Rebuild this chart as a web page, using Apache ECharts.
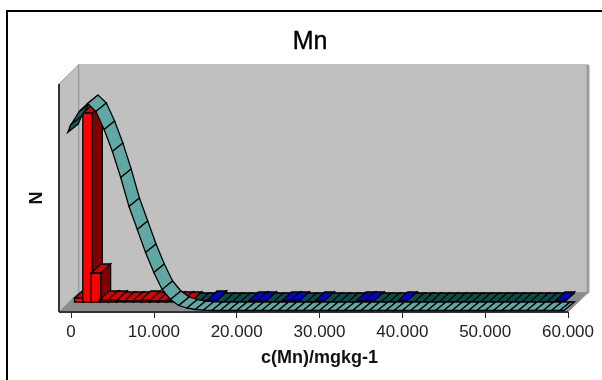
<!DOCTYPE html>
<html>
<head>
<meta charset="UTF-8">
<title>Mn</title>
<script src="https://cdn.jsdelivr.net/npm/echarts@6/dist/echarts.min.js"></script>
<style>
html,body{margin:0;padding:0;background:#fff}
#frame{position:absolute;left:6px;top:10px;width:596px;height:370px;border-left:2px solid #000;border-top:2px solid #000;box-sizing:border-box}
</style>
</head>
<body>
<div id="frame"></div>
<div id="main" style="position:absolute;left:0;top:0;width:602px;height:380px;"></div>
<script type="text/javascript">
// histogram counts, bins 1..59
var binCounts = [4,189,29,2,2,1,1,1,2,1,1,1,1,1,0,0,2,0,0,0,0,1,1,0,0,1,1,0,0,1,0,0,0,0,1,1,0,0,0,1,0,0,0,0,0,0,0,0,0,0,0,0,0,0,0,0,0,0,1];
// last bin that is painted red, later ones are blue
var lastRedBin = 14;
// normal curve, drawn as a ribbon
var curveX = [-0.4,0,1,2,3,4,5,6,7,8,9,10,11,12,13,14,15,16,17,18,19,20,21,22,23,24,25,26,27,28,29,30,31,32,33,34,35,36,37,38,39,40,41,42,43,44,45,46,47,48,49,50,51,52,53,54,55,56,57,58,59,59.5];
var curveY = [178,186,199,207,199,181,159,133,104,81,58,38,21,11,5,2.5,1,0.4,0,0,0,0,0,0,0,0,0,0,0,0,0,0,0,0,0,0,0,0,0,0,0,0,0,0,0,0,0,0,0,0,0,0,0,0,0,0,0,0,0,0,0,0];
var xTicks = ['0','10.000','20.000','30.000','40.000','50.000','60.000'];

var xMin = -1.45, xMax = 60, yMax = 228;

var myChart = echarts.init(document.getElementById('main'));

function poly(points, fill, stroke, width) {
    return {type: 'polygon', shape: {points: points}, style: {fill: fill, stroke: stroke || '#000', lineWidth: width === undefined ? 1.3 : width}, silent: true};
}
function shift(p, dx, dy) {
    return [p[0] + dx, p[1] + dy];
}

// walls and floor of the 3D box
function renderBox(params, api) {
    var fl = api.coord([xMin, 0]), fr = api.coord([xMax, 0]), tl = api.coord([xMin, yMax]);
    var dx = 19.5, dy = -19;
    var bl = shift(fl, dx, dy), br = shift(fr, dx, dy);
    var tbl = shift(tl, dx, dy), tbr = [br[0], tbl[1]];
    return {type: 'group', children: [
        poly([bl, br, tbr, tbl], '#c0c0c0', '#8a8a8a', 1.5),
        {type: 'line', shape: {x1: tbl[0], y1: tbl[1], x2: tbr[0], y2: tbr[1]}, style: {stroke: '#dddddd', lineWidth: 1}, silent: true},
        {type: 'line', shape: {x1: br[0] + 1, y1: br[1], x2: tbr[0] + 1, y2: tbr[1]}, style: {stroke: '#a0a0a0', lineWidth: 2}, silent: true},
        poly([fl, bl, tbl, tl], '#c0c0c0', '#9a9a9a', 1),
        poly([fl, fr, br, bl], '#8c8c8c', '#8c8c8c', 1),
        {type: 'line', shape: {x1: fl[0], y1: fl[1], x2: tl[0], y2: tl[1]}, style: {stroke: '#333', lineWidth: 2}, silent: true},
        {type: 'line', shape: {x1: fl[0], y1: fl[1], x2: fr[0], y2: fr[1]}, style: {stroke: '#333', lineWidth: 2}, silent: true}
    ]};
}

// one 3D bar in the back row
function renderBar(params, api) {
    var bin = api.value(0), n = api.value(1);
    var w = api.size([1, 0])[0] * 1.15;
    var rowDy = -10, dx = 10, dy = -9;
    var base = shift(api.coord([bin, 0]), -w / 2, rowDy);
    var top = shift(api.coord([bin, n]), -w / 2, rowDy);
    var a = base, b = [base[0] + w, base[1]], c = [top[0] + w, top[1]], d = top;
    var front = '#ff0000', side = '#800000', cap = '#d80000';
    if (n === 0) {
        front = side = cap = '#0d4a4a';
    } else if (bin > lastRedBin) {
        front = '#0000ff'; side = '#000080'; cap = '#0000d0';
    }
    return {type: 'group', children: [
        poly([b, shift(b, dx, dy), shift(c, dx, dy), c], side),
        poly([d, c, shift(c, dx, dy), shift(d, dx, dy)], cap),
        poly([a, b, c, d], front)
    ]};
}

// one slat of the curve ribbon
function renderRibbon(params, api) {
    var i = params.dataIndex;
    if (i >= curveX.length - 1) return {type: 'group', children: []};
    var dx = 10.5, dy = -8.5;
    var p = shift(api.coord([curveX[i], curveY[i]]), 0, -1.5);
    var q = shift(api.coord([curveX[i + 1], curveY[i + 1]]), 0, -1.5);
    var rising = curveY[i + 1] > curveY[i];
    return poly([p, q, shift(q, dx, dy), shift(p, dx, dy)], rising ? '#0f5f5f' : '#60a8a3');
}

var barData = binCounts.map(function (n, i) { return [i + 1, n]; });
var curveData = curveX.map(function (x, i) { return [x, curveY[i]]; });

myChart.setOption({
    animation: false,
    title: {
        text: 'Mn',
        left: 305,
        top: 25,
        textAlign: 'center',
        textStyle: {fontFamily: 'Liberation Sans', fontSize: 25, fontWeight: 'normal', color: '#000', textBorderColor: '#000', textBorderWidth: 0.4}
    },
    grid: {left: 71, right: 34, top: 84, bottom: 68},
    xAxis: {
        type: 'value',
        min: 0,
        max: xMax,
        interval: 10,
        name: 'c(Mn)/mgkg-1',
        nameLocation: 'middle',
        nameGap: 37,
        nameTextStyle: {fontFamily: 'Liberation Sans', fontSize: 18, fontWeight: 'bold', color: '#111'},
        axisLine: {show: false},
        axisTick: {show: true, length: 6, lineStyle: {color: '#222', width: 1}},
        splitLine: {show: false},
        axisLabel: {
            margin: 12,
            fontFamily: 'Liberation Sans',
            fontSize: 17,
            color: '#222',
            formatter: function (v) { return xTicks[v / 10]; }
        }
    },
    yAxis: {
        type: 'value',
        min: 0,
        max: yMax,
        name: 'N',
        nameLocation: 'middle',
        nameGap: 25,
        nameRotate: 90,
        nameTextStyle: {fontFamily: 'Liberation Sans', fontSize: 18, fontWeight: 'bold', color: '#111'},
        axisLine: {show: false},
        axisTick: {show: false},
        axisLabel: {show: false},
        splitLine: {show: false}
    },
    series: [
        {type: 'custom', renderItem: renderBox, data: [[0, 0]], z: 1, silent: true, clip: false},
        {type: 'custom', renderItem: renderBar, data: barData, z: 2, silent: true, clip: false},
        {type: 'custom', renderItem: renderRibbon, data: curveData, z: 3, silent: true, clip: false}
    ]
});
</script>
</body>
</html>
